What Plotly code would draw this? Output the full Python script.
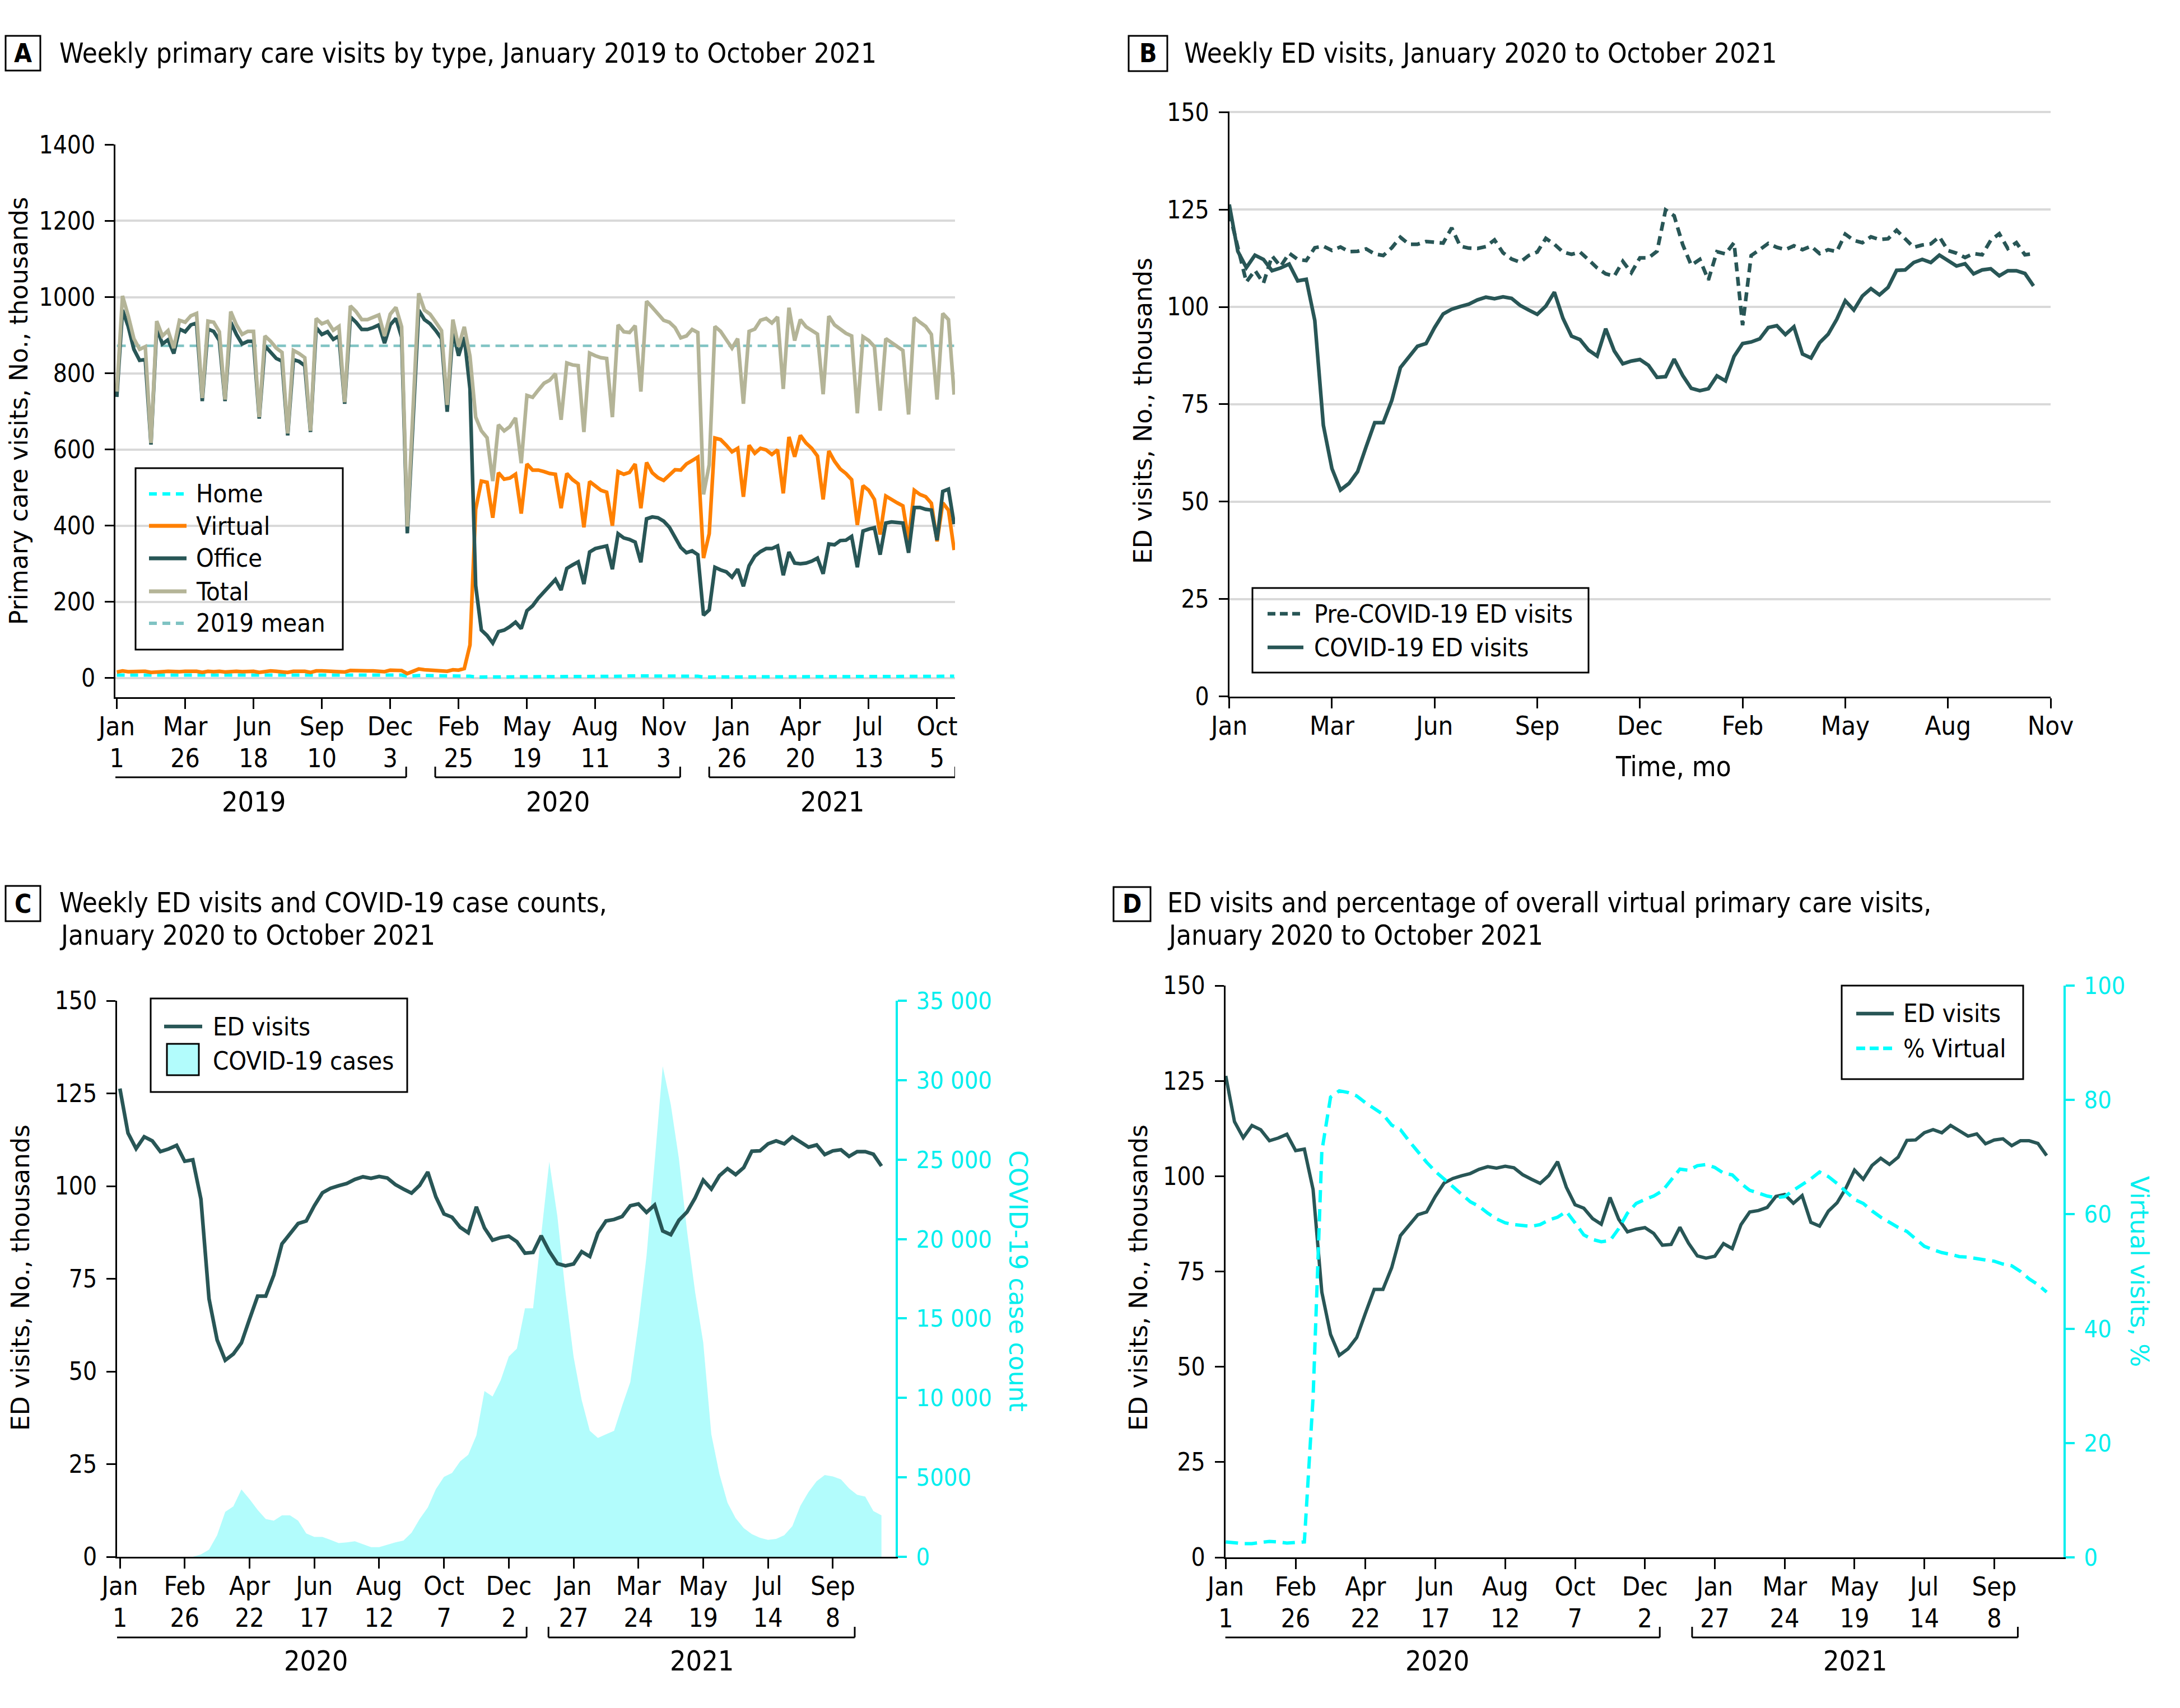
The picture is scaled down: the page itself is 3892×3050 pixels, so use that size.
import pandas as pd
import plotly.graph_objects as go

# ---------------- data ----------------
A_START = "2019-01-01"
ED_START = "2020-01-01"

HOME = [8, 9, 8, 8, 8, 8, 7, 8, 8, 8, 8, 8, 8, 8, 9, 7, 8, 8, 8, 7, 8, 8, 8, 8, 8, 7, 8, 8, 8, 8,
        7, 8, 8, 8, 7, 8, 8, 8, 8, 8, 7, 8, 8, 8, 8, 8, 8, 7, 8, 8, 8,
        5,
        7, 7, 7, 7, 7, 6, 7, 7, 7, 7,
        5,
        3, 3, 3, 3, 3, 4, 4, 4, 4, 4, 4, 4, 4, 4, 4, 4, 4, 4, 4, 5, 5, 5, 5, 5, 5, 5, 5, 6, 6, 6,
        6, 6, 6, 6, 5, 5, 5, 5, 5, 5,
        3, 3,
        5, 5, 5, 5, 4, 5, 5, 5, 5, 5, 5, 4, 5, 5, 5, 5, 5, 5, 5, 4, 5, 5, 5, 5, 5, 5, 5, 5, 4, 5,
        5, 5, 5, 5, 5, 4, 5, 5, 5, 5, 5, 5, 5]

VIRTUAL = [16, 19, 17, 17, 16, 18, 15, 17, 17, 18, 17, 17, 18, 18, 18, 15, 18, 17, 18, 16,
           18, 18, 17, 18, 18, 15, 18, 19, 18, 17, 15, 18, 18, 18, 15, 19, 19, 18, 18, 18,
           16, 20, 19, 19, 19, 19, 19, 17, 21, 21, 20,
           12, 17, 24, 22, 21, 21, 20, 18, 22, 21, 25,
           87, 443, 517, 514, 421, 539, 522, 525, 535, 432,
           562, 546, 546, 542, 537, 535, 446, 537, 521, 510,
           396, 516, 503, 493, 488, 400, 542, 535, 540, 562,
           446, 566, 539, 526, 519, 532, 547, 546, 562, 571,
           580, 315, 379, 630, 626, 611, 594, 603, 476, 611,
           590, 603, 599, 587, 599, 485, 633, 581, 637, 617,
           603, 583, 469, 596, 569, 549, 537, 521, 402, 505,
           493, 469, 377, 478, 468, 460, 452, 361, 493, 482,
           476, 459, 359, 460, 441, 336]

OFFICE = [738, 966, 923, 863, 834, 836, 613, 920, 877, 888,
          852, 916, 909, 927, 932, 727, 916, 910, 886, 727,
          934, 902, 877, 884, 884, 681, 872, 855, 839, 832,
          637, 836, 831, 820, 646, 920, 902, 909, 889, 898,
          720, 948, 934, 915, 915, 920, 927, 879, 927, 944,
          895, 380, 678, 966, 941, 930, 912, 891, 699, 912,
          846, 895, 759, 243, 126, 112, 92, 122, 126, 135,
          147, 130, 177, 190, 210, 227, 241, 259, 231, 288,
          297, 305, 247, 331, 340, 343, 347, 286, 379, 368,
          364, 357, 304, 418, 423, 421, 412, 396, 368, 343,
          329, 334, 324, 165, 179, 291, 284, 279, 265, 286,
          241, 295, 320, 332, 340, 340, 347, 270, 331, 302,
          300, 302, 307, 315, 274, 352, 350, 361, 362, 372,
          291, 386, 391, 395, 324, 407, 410, 409, 407, 329,
          448, 448, 443, 441, 362, 490, 496, 404]

TOTAL = [752, 1003, 951, 891, 863, 870, 617, 937, 898, 912,
         866, 939, 934, 951, 957, 735, 937, 934, 909, 731,
         962, 927, 902, 910, 910, 685, 898, 884, 866, 855,
         642, 860, 852, 841, 649, 944, 930, 936, 913, 923,
         724, 977, 962, 941, 941, 946, 953, 898, 955, 973,
         922, 398, 700, 1010, 966, 955, 934, 912, 717, 941,
         870, 922, 845, 685, 649, 631, 517, 665, 649, 660,
         683, 564, 742, 737, 756, 774, 782, 799, 678, 827,
         822, 820, 646, 853, 846, 841, 839, 685, 927, 909,
         907, 925, 752, 989, 973, 955, 939, 934, 920, 893,
         898, 915, 907, 482, 560, 923, 910, 888, 866, 891,
         720, 910, 916, 939, 944, 932, 948, 759, 972, 886,
         941, 922, 912, 903, 745, 950, 927, 917, 905, 898,
         695, 896, 886, 870, 702, 891, 880, 870, 860, 692,
         946, 934, 923, 902, 731, 957, 941, 744]

MEAN_2019 = 872

ED_VISITS = [126.3, 114.3, 110.1, 113.3, 112.2, 109.3, 110.0, 111.0, 106.7, 107.1,
             96.5, 69.6, 58.5, 53.0, 54.7, 57.7, 64.1, 70.3, 70.3, 76.0,
             84.4, 87.0, 89.9, 90.6, 94.7, 98.2, 99.4, 100.1, 100.7, 101.8,
             102.5, 102.1, 102.6, 102.2, 100.4, 99.2, 98.1, 100.2, 103.8, 97.1,
             92.5, 91.6, 88.9, 87.4, 94.4, 88.7, 85.4, 86.1, 86.5, 85.0,
             81.9, 82.1, 86.6, 82.4, 79.1, 78.5, 79.0, 82.3, 81.0, 87.3,
             90.6, 91.0, 91.8, 94.7, 95.2, 92.9, 94.9, 87.9, 86.9, 90.8,
             93.0, 96.8, 101.6, 99.2, 102.8, 104.7, 103.1, 105.0, 109.4, 109.5,
             111.4, 112.2, 111.4, 113.3, 111.8, 110.5, 111.1, 108.5, 109.5, 109.8,
             108.0, 109.3, 109.3, 108.6, 105.4]

PRE_COVID_ED = [124.3, 115.0, 106.4, 109.4, 106.1, 113.1, 110.4, 113.8, 112.2, 111.9,
                115.2, 115.6, 114.5, 115.4, 114.2, 114.3, 114.9, 113.6, 113.2, 115.2,
                117.9, 116.1, 116.1, 116.8, 116.7, 116.4, 120.3, 115.6, 115.1, 115.0,
                115.5, 117.2, 113.9, 112.3, 111.5, 113.2, 114.1, 117.6, 116.1, 114.1,
                113.5, 114.1, 112.1, 110.0, 108.5, 107.9, 111.7, 108.8, 112.6, 112.6,
                114.3, 124.9, 123.4, 116.0, 110.7, 112.2, 106.9, 114.2, 113.6, 116.5,
                95.3, 113.2, 114.7, 116.3, 115.3, 114.7, 115.7, 114.7, 115.6, 113.7,
                114.7, 114.2, 118.7, 117.1, 116.5, 118.0, 117.3, 117.5, 119.7, 117.5,
                115.3, 115.9, 116.2, 118.0, 114.5, 113.8, 112.7, 113.7, 113.4, 117.1,
                118.8, 115.0, 116.5, 113.4, 113.7]

COVID_CASES = [0, 0, 0, 0, 0, 0, 0, 0, 0, 0,
               150, 450, 1360, 2830, 3170, 4240, 3630, 2950, 2380, 2270,
               2610, 2610, 2270, 1470, 1250, 1250, 1070, 860, 910, 975,
               790, 610, 610, 750, 910, 1020, 1520, 2380, 3100, 4260,
               5030, 5280, 6010, 6420, 7640, 10430, 10090, 11110, 12600, 13100,
               15640, 15640, 20300, 24870, 21420, 16660, 12580, 9860, 7930, 7480,
               7710, 7930, 9520, 11000, 14620, 18930, 24820, 30880, 28450, 25050,
               20520, 16660, 13490, 7710, 5210, 3400, 2430, 1810, 1430, 1200,
               1070, 1130, 1360, 1930, 3220, 4080, 4760, 5150, 5060, 4870,
               4310, 3900, 3790, 2880, 2610]

PCT_VIRTUAL = [2.7, 2.5, 2.4, 2.4, 2.6, 2.8, 2.7, 2.5, 2.6, 2.7,
               28.0, 71.0, 80.5, 81.6, 81.3, 80.7, 79.5, 78.5, 77.5, 75.6,
               74.8, 72.8, 70.9, 69.1, 67.5, 66.2, 64.8, 63.5, 62.2, 61.4,
               60.2, 59.2, 58.5, 58.2, 58.0, 57.9, 58.2, 59.0, 59.5, 60.5,
               58.5, 56.4, 55.6, 55.2, 55.4, 57.5, 60.2, 61.9, 62.6, 63.2,
               64.1, 65.9, 67.9, 67.7, 68.5, 68.7, 68.2, 67.2, 66.9, 65.4,
               64.2, 63.7, 63.2, 62.9, 63.1, 64.2, 65.2, 66.2, 67.4, 66.6,
               65.4, 63.9, 62.6, 61.9, 60.6, 59.5, 58.6, 57.7, 57.0, 55.6,
               54.4, 53.8, 53.3, 53.0, 52.6, 52.5, 52.2, 52.0, 51.8, 51.3,
               51.0, 50.0, 48.7, 47.7, 46.4]

A_MONTHS = ["Jan", "Mar", "Jun", "Sep", "Dec", "Feb", "May", "Aug", "Nov", "Jan", "Apr", "Jul", "Oct"]
A_DAYS = ["1", "26", "18", "10", "3", "25", "19", "11", "3", "26", "20", "13", "5"]
B_MONTHS = ["Jan", "Mar", "Jun", "Sep", "Dec", "Feb", "May", "Aug", "Nov"]
CD_MONTHS = ["Jan", "Feb", "Apr", "Jun", "Aug", "Oct", "Dec", "Jan", "Mar", "May", "Jul", "Sep"]
CD_DAYS = ["1", "26", "22", "17", "12", "7", "2", "27", "24", "19", "14", "8"]
A_YEARS = ["2019", "2020", "2021"]
CD_YEARS = ["2020", "2021"]
CASE_TICKS = ["0", "5000", "10 000", "15 000", "20 000", "25 000", "30 000", "35 000"]

# ---------------- styling ----------------
W, H = 3892, 3050
OFF = 8  # page offset of the figure inside the browser window
DARK = "#285656"
TAN = "#B4B497"
ORANGE = "#FF8000"
CYAN = "#00FFFF"
CYAN_AX = "#00EEEE"
MEAN_C = "#7FC3C3"
AREA = "#B2FCFC"
GRID = "#D9D9D9"

COND = "DejaVu Sans Condensed, Liberation Sans Narrow, Liberation Sans, sans-serif"
DJV = "DejaVu Sans, Verdana, sans-serif"


def px(x):
    return (x - OFF) / W


def py(y):
    return 1 - (y - OFF) / H


def wdate(base, w):
    return (pd.Timestamp(base) + pd.Timedelta(days=7 * w)).strftime("%Y-%m-%d %H:%M:%S")


dA = pd.date_range(A_START, periods=len(TOTAL), freq="7D")
dE = pd.date_range(ED_START, periods=len(ED_VISITS), freq="7D")
tickA = pd.date_range(A_START, periods=len(A_MONTHS), freq="84D")
tickB = pd.date_range(ED_START, periods=len(B_MONTHS), freq="84D")
tickCD = pd.date_range(ED_START, periods=len(CD_MONTHS), freq="56D")

fig = go.Figure()

# ---- Panel A ----
fig.add_trace(go.Scatter(x=[dA[0], dA[-1]], y=[MEAN_2019, MEAN_2019], mode="lines", name="2019 mean",
                         line=dict(color=MEAN_C, width=4.5, dash="16px,10px"), xaxis="x", yaxis="y"))
fig.add_trace(go.Scatter(x=dA, y=HOME, mode="lines", name="Home",
                         line=dict(color=CYAN, width=6, dash="14px,10px"), xaxis="x", yaxis="y"))
fig.add_trace(go.Scatter(x=dA, y=VIRTUAL, mode="lines", name="Virtual",
                         line=dict(color=ORANGE, width=6.5), xaxis="x", yaxis="y"))
fig.add_trace(go.Scatter(x=dA, y=OFFICE, mode="lines", name="Office",
                         line=dict(color=DARK, width=6.5), xaxis="x", yaxis="y"))
fig.add_trace(go.Scatter(x=dA, y=TOTAL, mode="lines", name="Total",
                         line=dict(color=TAN, width=6.5), xaxis="x", yaxis="y"))

# ---- Panel B ----
fig.add_trace(go.Scatter(x=dE, y=PRE_COVID_ED, mode="lines", name="Pre-COVID-19 ED visits",
                         line=dict(color=DARK, width=6.5, dash="16px,10px"), xaxis="x2", yaxis="y2"))
fig.add_trace(go.Scatter(x=dE, y=ED_VISITS, mode="lines", name="COVID-19 ED visits",
                         line=dict(color=DARK, width=6.5), xaxis="x2", yaxis="y2"))

# ---- Panel C ----
fig.add_trace(go.Scatter(x=dE, y=COVID_CASES, mode="lines", fill="tozeroy", fillcolor=AREA,
                         line=dict(width=0, color=AREA), name="COVID-19 cases", xaxis="x3", yaxis="y3"))
fig.add_trace(go.Scatter(x=dE, y=ED_VISITS, mode="lines", name="ED visits",
                         line=dict(color=DARK, width=6.5), xaxis="x3", yaxis="y5"))

# ---- Panel D ----
fig.add_trace(go.Scatter(x=dE, y=ED_VISITS, mode="lines", name="ED visits",
                         line=dict(color=DARK, width=6), xaxis="x4", yaxis="y4"))
fig.add_trace(go.Scatter(x=dE, y=PCT_VIRTUAL, mode="lines", name="% Virtual",
                         line=dict(color=CYAN, width=6, dash="22px,12px"), xaxis="x4", yaxis="y6"))

# invisible helpers for the day-number overlay axes
for xa, ya, d in (("x5", "y", dA), ("x6", "y3", dE), ("x7", "y4", dE)):
    fig.add_trace(go.Scatter(x=[d[0]], y=[0], mode="markers", marker=dict(opacity=0),
                             xaxis=xa, yaxis=ya, hoverinfo="skip", showlegend=False))

fig.update_traces(showlegend=False, hoverinfo="skip")

MONTH_FONT = dict(family=COND, size=47, color="black")
DAY_FONT = dict(family=COND, size=46, color="black")
YTICK_FONT = dict(family=COND, size=44, color="black")
CYTICK_FONT = dict(family=COND, size=43, color=CYAN_AX)


def xaxis_main(dom, rng, tv, tt, anchor):
    return dict(domain=[px(dom[0]), px(dom[1])], range=rng, anchor=anchor, type="date", automargin=False,
                tickmode="array", tickvals=tv, ticktext=tt, showgrid=False, zeroline=False,
                showline=True, linecolor="black", linewidth=3, ticks="outside", ticklen=18,
                tickwidth=3, tickcolor="black", tickfont=MONTH_FONT, ticklabelstandoff=-9)


def xaxis_days(over, rng, tv, tt, anchor):
    return dict(overlaying=over, range=rng, anchor=anchor, type="date", side="bottom", automargin=False,
                tickmode="array", tickvals=tv, ticktext=tt, showgrid=False, zeroline=False,
                showline=False, ticks="", tickfont=DAY_FONT, ticklabelstandoff=78)


def yaxis_left(dom, rng, dtick, anchor, grid):
    return dict(domain=[py(dom[1]), py(dom[0])], range=rng, anchor=anchor, tick0=0, dtick=dtick,
                automargin=False, showgrid=grid, gridcolor=GRID, gridwidth=4, zeroline=False,
                showline=True, linecolor="black", linewidth=3, ticks="outside", ticklen=16, tickwidth=3,
                tickcolor="black", tickfont=YTICK_FONT, ticklabelstandoff=8)


rngA = [wdate(A_START, -0.25), wdate(A_START, 147.15)]
rngB = [wdate(ED_START, 0), wdate(ED_START, 96)]
rngC = [wdate(ED_START, -0.35), wdate(ED_START, 95.75)]
rngD = [wdate(ED_START, -0.05), wdate(ED_START, 95.93)]

domA_x, domA_y = (206, 1705), (258, 1245)
domB_x, domB_y = (2194.6, 3661), (199, 1243.5)
domC_x, domC_y = (209, 1599), (1787, 2780)
domD_x, domD_y = (2187.6, 3684), (1760, 2781)

layout = dict(
    template="none",
    width=W, height=H, autosize=False, margin=dict(l=0, r=0, t=0, b=0, pad=0, autoexpand=False),
    paper_bgcolor="white", plot_bgcolor="white", showlegend=False,
    xaxis=xaxis_main(domA_x, rngA, list(tickA), A_MONTHS, "y"),
    xaxis5=xaxis_days("x", rngA, list(tickA), A_DAYS, "y"),
    yaxis=yaxis_left(domA_y, [-50, 1400.5], 200, "x", True),
    xaxis2=xaxis_main(domB_x, rngB, list(tickB), B_MONTHS, "y2"),
    yaxis2=yaxis_left(domB_y, [0, 150.2], 25, "x2", True),
    xaxis3=xaxis_main(domC_x, rngC, list(tickCD), CD_MONTHS, "y3"),
    xaxis6=xaxis_days("x3", rngC, list(tickCD), CD_DAYS, "y3"),
    yaxis3=dict(domain=[py(domC_y[1]), py(domC_y[0])], range=[0, 35000], anchor="x3", side="right",
                automargin=False, tickmode="array", tickvals=[i * 5000 for i in range(len(CASE_TICKS))],
                ticktext=CASE_TICKS, showgrid=False, zeroline=False, showline=True, linecolor=CYAN_AX,
                linewidth=4, ticks="outside", ticklen=16, tickwidth=4, tickcolor=CYAN_AX,
                tickfont=CYTICK_FONT, ticklabelstandoff=8),
    yaxis5=dict(overlaying="y3", side="left", anchor="x3", range=[0, 150], tick0=0, dtick=25,
                automargin=False, showgrid=False, zeroline=False, showline=True, linecolor="black",
                linewidth=3, ticks="outside", ticklen=16, tickwidth=3, tickcolor="black",
                tickfont=YTICK_FONT, ticklabelstandoff=8),
    xaxis4=xaxis_main(domD_x, rngD, list(tickCD), CD_MONTHS, "y4"),
    xaxis7=xaxis_days("x4", rngD, list(tickCD), CD_DAYS, "y4"),
    yaxis4=yaxis_left(domD_y, [0, 150], 25, "x4", False),
    yaxis6=dict(overlaying="y4", side="right", anchor="x4", range=[0, 100], tick0=0, dtick=20,
                automargin=False, showgrid=False, zeroline=False, showline=True, linecolor=CYAN_AX,
                linewidth=4, ticks="outside", ticklen=16, tickwidth=4, tickcolor=CYAN_AX,
                tickfont=CYTICK_FONT, ticklabelstandoff=8),
)
fig.update_layout(**layout)

shapes = []
ann = []


def pbox(x0, y0, x1, y1, width=3, fill=None):
    d = dict(type="rect", xref="paper", yref="paper", x0=px(x0), x1=px(x1), y0=py(y1), y1=py(y0),
             line=dict(color="black", width=width))
    if fill:
        d["fillcolor"] = fill
    shapes.append(d)


def text(x, y, s, font, xanchor="left", yanchor="middle", angle=0):
    ann.append(dict(xref="paper", yref="paper", x=px(x), y=py(y), text=s, showarrow=False,
                    xanchor=xanchor, yanchor=yanchor, textangle=angle, font=font))


TITLE_FONT = dict(family=COND, size=49, color="black")
LETTER_FONT = dict(family=COND, size=46, color="black", weight="bold")
LEG_FONT = dict(family=COND, size=45, color="black")
YT_FONT = dict(family=DJV, size=44, color="black")
YT_CYAN = dict(family=DJV, size=44, color=CYAN_AX)

# panel letters + titles
for (bx0, by0, bx1, by1, letter) in ((10, 64, 72, 126, "A"), (2015, 64, 2084, 127, "B"),
                                       (10, 1582, 72, 1645, "C"), (1988, 1584, 2054, 1645, "D")):
    pbox(bx0, by0, bx1, by1, width=3)
    text((bx0 + bx1) / 2, (by0 + by1) / 2, "<b>%s</b>" % letter, LETTER_FONT, xanchor="center")

text(104, 96, "Weekly primary care visits by type, January 2019 to October 2021", TITLE_FONT)
text(2112, 96, "Weekly ED visits, January 2020 to October 2021", TITLE_FONT)
text(104, 1612, "Weekly ED visits and COVID-19 case counts,", TITLE_FONT)
text(104, 1670, "January 2020 to October 2021", TITLE_FONT)
text(2082, 1612, "ED visits and percentage of overall virtual primary care visits,", TITLE_FONT)
text(2082, 1670, "January 2020 to October 2021", TITLE_FONT)

# axis titles
text(34, 734, "Primary care visits, No., thousands", YT_FONT, xanchor="center", angle=-90)
text(2041, 734, "ED visits, No., thousands", YT_FONT, xanchor="center", angle=-90)
text(2987, 1369, "Time, mo", dict(family=COND, size=49, color="black"), xanchor="center")
text(36, 2282, "ED visits, No., thousands", YT_FONT, xanchor="center", angle=-90)
text(1818, 2287, "COVID-19 case count", YT_CYAN, xanchor="center", angle=90)
text(2032, 2282, "ED visits, No., thousands", YT_FONT, xanchor="center", angle=-90)
text(3820, 2270, "Virtual visits, %", YT_CYAN, xanchor="center", angle=90)


# year brackets
def bracket(xref, base, w0, w1, yh, yt, label, ylab):
    for (a, b, c, d) in ((w0, yh, w1, yh), (w0, yh, w0, yt), (w1, yh, w1, yt)):
        shapes.append(dict(type="line", xref=xref, yref="paper", x0=wdate(base, a), x1=wdate(base, c),
                           y0=py(b), y1=py(d), line=dict(color="black", width=3)))
    ann.append(dict(xref=xref, yref="paper", x=wdate(base, (w0 + w1) / 2), y=py(ylab), text=label,
                    showarrow=False, xanchor="center", yanchor="middle",
                    font=dict(family=COND, size=50, color="black")))


for (w0, w1), lab in zip(((-2.7, 50.8), (55.9, 98.9), (104.0, 147.2)), A_YEARS):
    bracket("x", A_START, w0, w1, 1388, 1369, lab, 1432)
for (w0, w1), lab in zip(((-1.8, 50.2), (52.9, 90.7)), CD_YEARS):
    bracket("x3", ED_START, w0, w1, 2924, 2905, lab, 2966)
for (w0, w1), lab in zip(((-1.3, 49.7), (53.4, 90.7)), CD_YEARS):
    bracket("x4", ED_START, w0, w1, 2924, 2905, lab, 2966)


# legends (drawn)
def leg_line(x0, x1, y, color, width, dash="solid"):
    shapes.append(dict(type="line", xref="paper", yref="paper", x0=px(x0), x1=px(x1), y0=py(y), y1=py(y),
                       line=dict(color=color, width=width, dash=dash)))


pbox(242, 836, 612, 1160, width=3)
for (y, name, color, w, dash) in ((882, "Home", CYAN, 6, "14px,10px"), (939, "Virtual", ORANGE, 7, "solid"),
                                  (997, "Office", DARK, 7, "solid"), (1056, "Total", TAN, 7, "solid"),
                                  (1113, "2019 mean", MEAN_C, 6, "14px,10px")):
    leg_line(266, 333, y, color, w, dash)
    text(348, y, name, LEG_FONT)

pbox(2236, 1050, 2836, 1201, width=3)
leg_line(2263, 2327, 1096, DARK, 6.5, "14px,8px")
text(2344, 1096, "Pre-COVID-19 ED visits", LEG_FONT)
leg_line(2263, 2327, 1156, DARK, 6.5)
text(2344, 1156, "COVID-19 ED visits", LEG_FONT)

pbox(269, 1783, 727, 1950, width=3)
leg_line(293, 361, 1833, DARK, 6.5)
text(378, 1833, "ED visits", LEG_FONT)
pbox(298, 1864, 355, 1920, width=3, fill=AREA)
text(378, 1895, "COVID-19 cases", LEG_FONT)

pbox(3288, 1760, 3612, 1927, width=3)
leg_line(3314, 3381, 1810, DARK, 6.5)
text(3396, 1810, "ED visits", LEG_FONT)
leg_line(3314, 3381, 1872, CYAN, 6.5, "16px,8px")
text(3396, 1872, "% Virtual", LEG_FONT)

fig.update_layout(shapes=shapes, annotations=ann)
fig.write_html("out.html")
